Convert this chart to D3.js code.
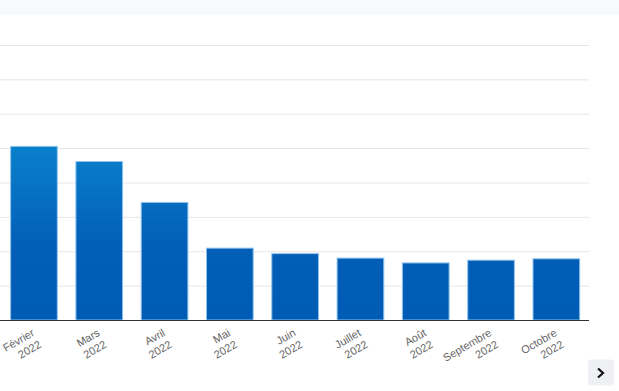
<!DOCTYPE html>
<html>
  <head>
    <meta charset="utf-8">
    <title>Bar chart</title>
    <style>
      body { margin: 0; background: #fff; }
      svg { display: block; font-family: "Liberation Sans", Arial, sans-serif; }
    </style>
  </head>
  <body>
    <div id="chart"></div>
  </body>
  <script src="https://d3js.org/d3.v7.min.js"></script>
  <script>

    // data (plot is scrolled, only these months visible)
    let months = ["Février", "Mars", "Avril", "Mai", "Juin", "Juillet", "Août", "Septembre", "Octobre"];
    let years = ["2022", "2022", "2022", "2022", "2022", "2022", "2022", "2022", "2022"];
    let values = [5.05, 4.61, 3.42, 2.09, 1.93, 1.80, 1.66, 1.74, 1.78];
    let gridTicks = [1, 2, 3, 4, 5, 6, 7, 8, 9];

    let width = 619, height = 391;
    let plotLeft = 1.3, plotRight = 589, plotBottom = 320, plotTop = 10.6;

    let xScale = d3.scaleBand()
      .domain(months)
      .range([plotLeft, plotRight])
      .paddingInner(0.285)
      .paddingOuter(0.1425);

    let yScale = d3.scaleLinear()
      .domain([0, 9])
      .range([plotBottom, plotTop]);

    let svg = d3.select("#chart").append("svg")
      .attr("width", width)
      .attr("height", height);

    // gradient across the plot, light at top dark at bottom
    let grad = svg.append("defs").append("linearGradient")
      .attr("id", "barGrad")
      .attr("gradientUnits", "userSpaceOnUse")
      .attr("x1", 0).attr("x2", 0)
      .attr("y1", 140).attr("y2", plotBottom);
    grad.append("stop").attr("offset", "0%").attr("stop-color", "#0a82cc");
    grad.append("stop").attr("offset", "60%").attr("stop-color", "#025eb6");
    grad.append("stop").attr("offset", "100%").attr("stop-color", "#005bb4");

    // horizontal grid
    let grid = svg.append("g")
      .attr("transform", "translate(" + plotRight + ",0)")
      .call(d3.axisLeft(yScale).tickValues(gridTicks).tickSize(plotRight).tickFormat(""));
    grid.select(".domain").remove();
    grid.selectAll(".tick line").attr("stroke", "#e6e6e6");

    // bars
    svg.selectAll(".bar")
      .data(values)
      .enter().append("rect")
      .attr("class", "bar")
      .attr("x", function(d, i) { return xScale(months[i]); })
      .attr("width", xScale.bandwidth())
      .attr("y", function(d) { return yScale(d); })
      .attr("height", function(d) { return plotBottom - yScale(d); })
      .attr("fill", "url(#barGrad)")
      .attr("stroke", "#8fc3ee")
      .attr("stroke-width", 1);

    // x axis
    let xAxis = svg.append("g")
      .attr("transform", "translate(0," + plotBottom + ")")
      .call(d3.axisBottom(xScale).tickSize(0).tickFormat(""));
    xAxis.select(".domain").remove();
    xAxis.append("line")
      .attr("x1", 0).attr("x2", plotRight)
      .attr("y1", 0.5).attr("y2", 0.5)
      .attr("stroke", "#333333");

    xAxis.selectAll(".tick").each(function(d, i) {
      let t = d3.select(this).append("text")
        .attr("transform", "translate(" + (xScale.bandwidth() / 2 - 22) + ",15) rotate(-30)")
        .attr("text-anchor", "end")
        .attr("fill", "#666666")
        .attr("font-size", "11px");
      t.append("tspan").attr("x", 0).attr("y", 0).text(months[i]);
      t.append("tspan").attr("x", 0).attr("dy", 13.5).text(years[i]);
    });

    // top strip
    svg.append("rect")
      .attr("x", 0).attr("y", 0)
      .attr("width", width).attr("height", 14.7)
      .attr("fill", "#f8f9fb");

    // scroll button
    let btn = svg.append("g").attr("transform", "translate(588,359.5)");
    btn.append("rect")
      .attr("width", 26).attr("height", 26)
      .attr("rx", 3)
      .attr("fill", "#eef0f3");
    btn.append("path")
      .attr("d", "M10,9 L15,13.5 L10,18")
      .attr("fill", "none")
      .attr("stroke", "#111")
      .attr("stroke-width", 2.2);

  </script>
</html>
